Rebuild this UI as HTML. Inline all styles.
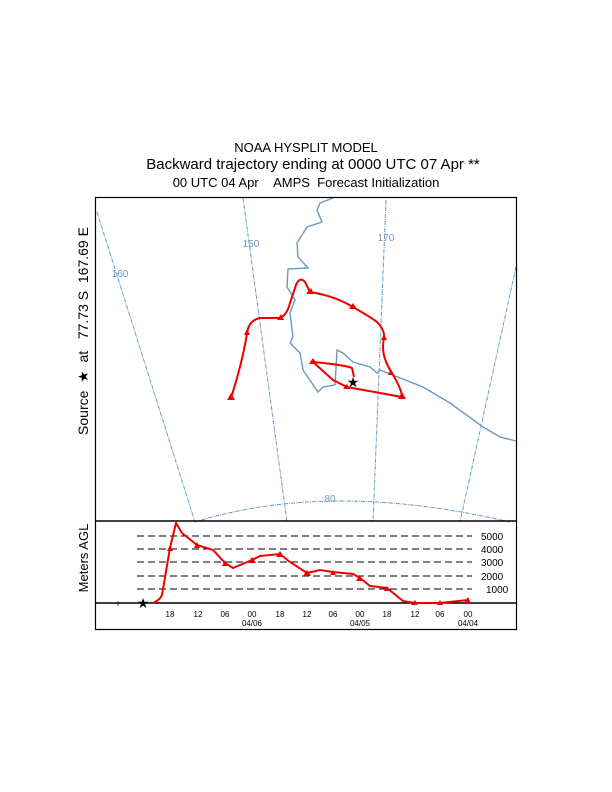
<!DOCTYPE html><html><head><style>body{margin:0;background:#fff}svg{display:block}text{font-family:"Liberation Sans","DejaVu Sans",sans-serif;white-space:pre}</style></head><body>
<svg width="612" height="792" viewBox="0 0 612 792" xmlns="http://www.w3.org/2000/svg">
<text x="306" y="152" font-size="13" text-anchor="middle">NOAA HYSPLIT MODEL</text>
<text x="313" y="169" font-size="15" text-anchor="middle">Backward trajectory ending at 0000 UTC 07 Apr **</text>
<text x="306" y="187" font-size="13" text-anchor="middle">00 UTC 04 Apr&#160;&#160;&#160;&#160;AMPS&#160;&#160;Forecast Initialization</text>
<g fill="none" stroke="#6a98c6" stroke-width="1" stroke-dasharray="4,1,1,1">
<path d="M97,212 L195,522"/><path d="M243,198 L287,522"/><path d="M386,200 L373,522"/><path d="M516,267 L460,522"/>
<path d="M195,522 Q330,480 510,522"/></g>
<g fill="#6a98c6" font-size="10" text-anchor="middle"><text x="120" y="277">160</text><text x="251" y="247">150</text><text x="386" y="241">170</text><text x="330" y="502">80</text></g>
<path fill="none" stroke="#6a98c6" stroke-width="1.4" d="M333,198 L320,203 L317,210 L322,222 L307,227 L297,243 L298,257 L308,268 L288,269 L287,287 L295,300 L290,313 L293,337 L290,343 L300,353 L303,370 L318,392 L323,387 L335,385 L337,350 L343,353 L353,362 L370,367 L377,373 L380,370 L423,387 L450,403 L483,427 L500,437 L516,441"/>
<path fill="none" stroke="#e00" stroke-width="2" d="M231,398 Q243,360 247,333 Q249,320 260,318 L280,318 Q287,315 290,303 L296,285 Q300,276 305,282 L310,292 Q335,296 353,307 Q372,318 377,322 Q385,330 384,338 Q380,355 392,373 Q402,390 402,397 L347,387 L333,380 L313,362 Q345,365 352,368 L354,377"/>
<g fill="#e00"><path d="M227,400h8l-4,-7z"/><path d="M244,335h6l-3,-6z"/><path d="M277,320h7l-3,-6z"/><path d="M306,294h8l-3,-6z"/><path d="M349,309h8l-4,-6z"/><path d="M381,340h6l-3,-6z"/><path d="M388,375h6l-3,-6z"/><path d="M398,399h8l-4,-7z"/><path d="M343,389h7l-3,-5z"/><path d="M309,364h8l-4,-6z"/></g>
<text x="353" y="387" font-size="14" text-anchor="middle">★</text>
<rect x="95.5" y="197.5" width="421" height="432" fill="none" stroke="#000" stroke-width="1.2"/>
<line x1="95" y1="521" x2="516" y2="521" stroke="#000" stroke-width="1.5"/>
<line x1="95" y1="603" x2="516" y2="603" stroke="#000" stroke-width="1.5"/>
<g stroke="#000" stroke-dasharray="7,4" stroke-width="1"><line x1="137" y1="536" x2="472" y2="536"/><line x1="137" y1="549" x2="472" y2="549"/><line x1="137" y1="562" x2="472" y2="562"/><line x1="137" y1="576" x2="472" y2="576"/><line x1="137" y1="589" x2="472" y2="589"/></g>
<g font-size="10"><text x="481" y="540">5000</text><text x="481" y="553">4000</text><text x="481" y="566">3000</text><text x="481" y="580">2000</text><text x="486" y="593">1000</text></g>
<path fill="none" stroke="#e00" stroke-width="2" d="M153,603 Q160,600 162,595 L170,548 L176,523 L182,533 L197,545 L213,550 L225,563 L233,568 L252,560 L260,556 L280,554 L290,562 L307,573 L320,570 L333,572 L353,574 L360,578 L370,586 L387,588 L403,601 L415,603 L440,603 L468,600"/>
<g fill="#e00"><path d="M167,551h6l-3,-6z"/><path d="M194,548h6l-3,-6z"/><path d="M222,566h6l-3,-6z"/><path d="M248,563h8l-4,-6z"/><path d="M276,557h8l-4,-6z"/><path d="M303,576h8l-4,-6z"/><path d="M330,575h6l-3,-5z"/><path d="M356,581h7l-3,-6z"/><path d="M384,591h6l-3,-5z"/><path d="M411,605h7l-3,-5z"/><path d="M437,605h6l-3,-5z"/><path d="M464,603h7l-3,-6z"/></g>
<text x="143" y="608" font-size="14" text-anchor="middle">★</text><text x="118" y="607" font-size="10" text-anchor="middle">+</text>
<g font-size="8" text-anchor="middle"><text x="170" y="617">18</text><text x="198" y="617">12</text><text x="225" y="617">06</text><text x="252" y="617">00</text><text x="280" y="617">18</text><text x="307" y="617">12</text><text x="333" y="617">06</text><text x="360" y="617">00</text><text x="387" y="617">18</text><text x="415" y="617">12</text><text x="440" y="617">06</text><text x="468" y="617">00</text>
<text x="252" y="626">04/06</text><text x="360" y="626">04/05</text><text x="468" y="626">04/04</text></g>
<text transform="translate(88,331) rotate(-90)" font-size="14" text-anchor="middle">Source&#160;&#160;★&#160;&#160;at&#160;&#160;&#160;77.73 S&#160;&#160;167.69 E</text>
<text transform="translate(88,558) rotate(-90)" font-size="13" text-anchor="middle">Meters AGL</text>
</svg></body></html>
